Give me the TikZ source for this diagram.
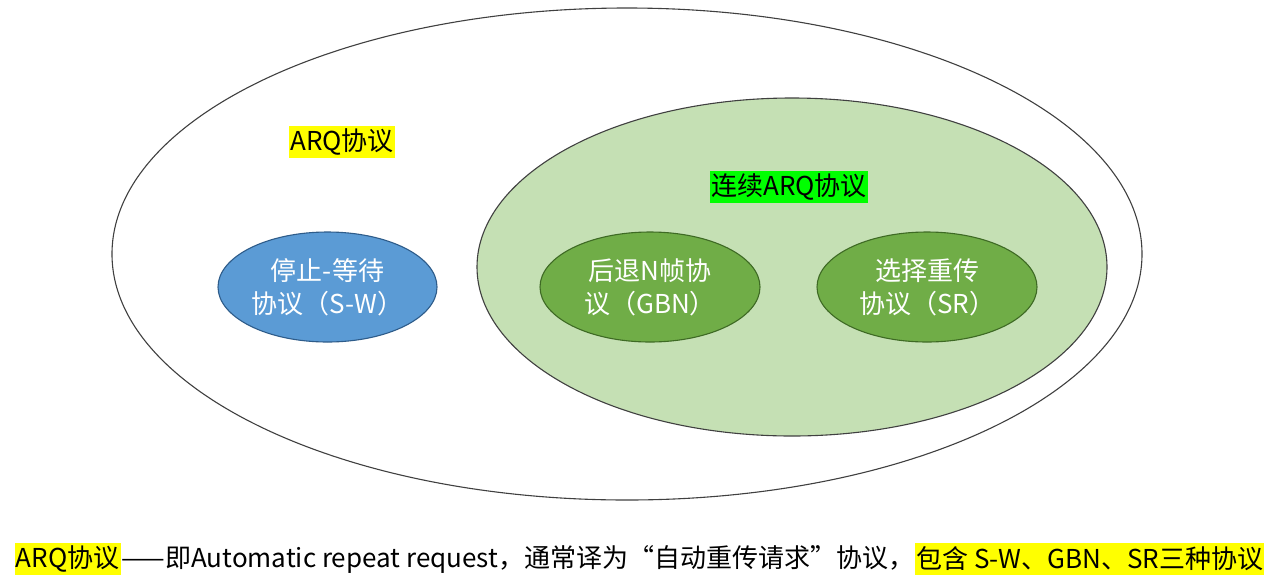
\documentclass[tikz,border=0pt]{standalone}
\usepackage{fontspec}
\setmainfont{Noto Sans CJK SC}
\usetikzlibrary{positioning,shapes.geometric}

\definecolor{rimgray}{HTML}{404040}
\definecolor{paleGreen}{HTML}{C5E0B4}
\definecolor{leafGreen}{HTML}{70AD47}
\definecolor{leafRim}{HTML}{3E6A24}
\definecolor{skyBlue}{HTML}{5B9BD5}
\definecolor{skyRim}{HTML}{2E5C8A}
\definecolor{markYellow}{HTML}{FFFF00}
\definecolor{markGreen}{HTML}{00FF00}

\begin{document}
\begin{tikzpicture}[x=1pt,y=-1pt,
	txt/.style={font=\fontsize{26}{33}\selectfont},
	blob/.style={draw,ellipse,inner sep=0,outer sep=0,line width=1.1pt,txt,text=white,align=center},
	hilite/.style={txt,inner xsep=1pt,inner ysep=0,minimum height=32,outer sep=0}]
	\useasboundingbox (0,0) rectangle (1280,574);
	% nested protocol families
	\node[blob,draw=rimgray,fill=white,minimum width=1030,minimum height=492] (arq) at (627,254) {};
	\node[blob,draw=rimgray,fill=paleGreen,minimum width=630,minimum height=338] (cont) at (792,267) {};
	\node[blob,draw=skyRim,fill=skyBlue,minimum width=219,minimum height=110] (sw) at (327.5,287) {停止-等待\\协议（S-W）};
	\node[blob,draw=leafRim,fill=leafGreen,minimum width=220,minimum height=110] (gbn) at (650,287) {后退N帧协\\议（GBN）};
	\node[blob,draw=leafRim,fill=leafGreen,minimum width=220,minimum height=110] (sr) at (927,287) {选择重传\\协议（SR）};
	\node[hilite,fill=markYellow] (arqlabel) at (342,142) {ARQ协议};
	\node[hilite,fill=markGreen] (contlabel) at (789,187) {连续ARQ协议};
	% footnote line
	\node[hilite,fill=markYellow,anchor=west] (note1) at (15,559) {ARQ协议};
	\node[hilite,right=0pt of note1] (note2) {——即Automatic repeat request，通常译为“自动重传请求”协议，};
	\node[hilite,fill=markYellow,right=0pt of note2] (note3) {包含 S-W、GBN、SR三种协议};
\end{tikzpicture}
\end{document}
